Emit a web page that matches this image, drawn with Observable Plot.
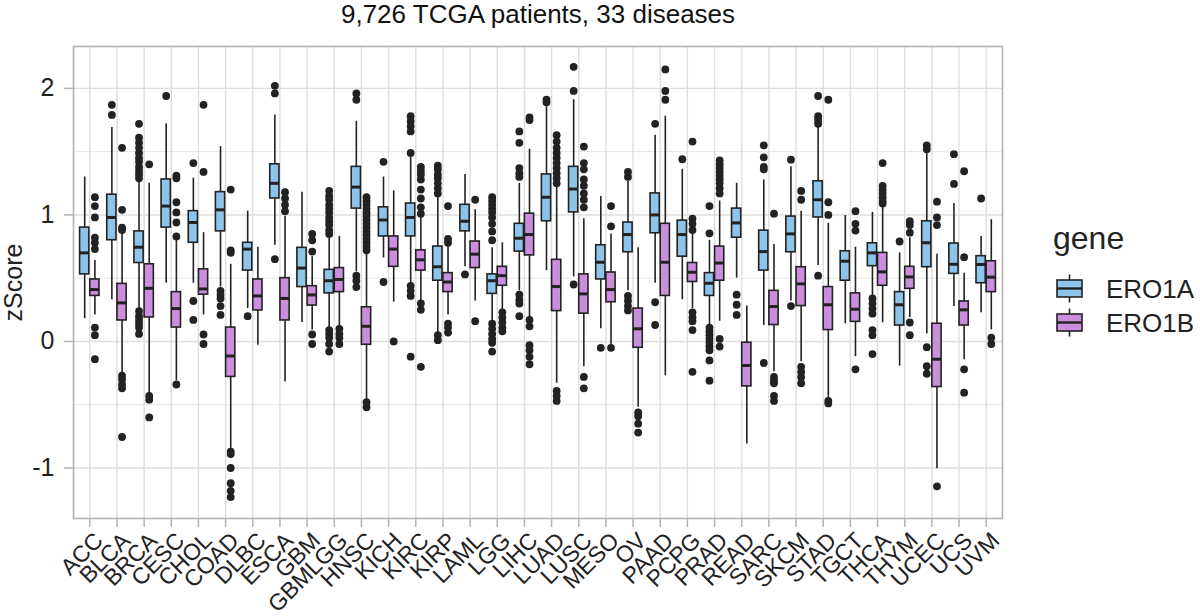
<!DOCTYPE html>
<html>
<head>
<meta charset="utf-8">
<script src="https://cdn.jsdelivr.net/npm/d3@7"></script>
<script src="https://cdn.jsdelivr.net/npm/@observablehq/plot@0.6"></script>
<style>
  html, body { margin: 0; padding: 0; background: #fff; }
  #wrap { position: relative; width: 1200px; height: 616px; overflow: hidden; font-family: "Liberation Sans", Arial, sans-serif; }
  #legend { position: absolute; left: 0; top: 0; }
</style>
</head>
<body>
<div id="wrap"></div>
<script>
const diseases = ["ACC","BLCA","BRCA","CESC","CHOL","COAD","DLBC","ESCA","GBM","GBMLGG","HNSC","KICH","KIRC","KIRP","LAML","LGG","LIHC","LUAD","LUSC","MESO","OV","PAAD","PCPG","PRAD","READ","SARC","SKCM","STAD","TGCT","THCA","THYM","UCEC","UCS","UVM"];
const genes = ["ERO1A", "ERO1B"];
const geneColors = ["#8EC3EA", "#CA8EDD"];
const yTicks = [-1, 0, 1, 2];
const yMinor = [-0.5, 0.5, 1.5];
const titleText = "9,726 TCGA patients, 33 diseases";

// ERO1A box statistics: [lower whisker, q1, median, q3, upper whisker]
const ero1aStats = [
  [0.18, 0.53, 0.70, 0.90, 1.30],
  [0.33, 0.80, 0.98, 1.16, 1.69],
  [0.26, 0.62, 0.745, 0.87, 1.27],
  [0.46, 0.90, 1.07, 1.28, 1.72],
  [0.46, 0.78, 0.94, 1.03, 1.29],
  [0.43, 0.87, 1.04, 1.18, 1.54],
  [0.26, 0.56, 0.73, 0.78, 1.03],
  [0.76, 1.13, 1.25, 1.40, 1.79],
  [0.15, 0.43, 0.58, 0.74, 1.18],
  [0.11, 0.38, 0.48, 0.566, 0.82],
  [0.55, 1.05, 1.22, 1.38, 1.74],
  [0.66, 0.83, 0.96, 1.06, 1.30],
  [0.455, 0.83, 0.98, 1.09, 1.46],
  [0.07, 0.48, 0.59, 0.75, 1.14],
  [0.59, 0.87, 0.95, 1.08, 1.32],
  [0.15, 0.376, 0.48, 0.53, 0.74],
  [0.40, 0.71, 0.816, 0.93, 1.25],
  [0.56, 0.95, 1.14, 1.32, 1.855],
  [0.51, 1.02, 1.205, 1.38, 1.91],
  [0.10, 0.49, 0.626, 0.76, 1.145],
  [0.40, 0.705, 0.845, 0.94, 1.265],
  [0.46, 0.855, 1.00, 1.17, 1.63],
  [0.33, 0.67, 0.845, 0.955, 1.36],
  [0.126, 0.36, 0.46, 0.54, 0.80],
  [0.50, 0.82, 0.937, 1.05, 1.25],
  [0.126, 0.56, 0.71, 0.876, 1.276],
  [0.32, 0.705, 0.85, 0.987, 1.38],
  [0.60, 0.98, 1.12, 1.266, 1.69],
  [0.14, 0.48, 0.634, 0.713, 0.995],
  [0.345, 0.595, 0.70, 0.776, 1.02],
  [-0.195, 0.126, 0.29, 0.39, 0.70],
  [0.06, 0.587, 0.78, 0.95, 1.49],
  [0.276, 0.534, 0.61, 0.774, 1.09],
  [0.226, 0.46, 0.608, 0.674, 0.83]
];
const ero1aOutliers = [
  [],
  [1.87, 1.79],
  [1.72, 1.61, 1.57, 1.53, 1.49, 1.45, 1.42, 1.38, 1.35, 1.32, 1.29, 0.24, 0.20, 0.17, 0.14, 0.11, 0.06],
  [1.94],
  [1.41, 0.32, 0.17],
  [0.40, 0.37, 0.34, 0.28, 0.21],
  [0.20],
  [2.02, 1.96, 0.65],
  [],
  [1.19, 1.15, 1.12, 1.08, 1.05, 1.02, 0.98, 0.95, 0.92, 0.88, 0.85, 0.09, 0.06, 0.03, -0.02, -0.08],
  [1.96, 1.91, 0.52, 0.48, 0.43],
  [1.42, 0.47],
  [1.78, 1.74, 1.70, 1.66, 1.49, 0.44, 0.40, 0.36, -0.12],
  [1.39, 1.36, 1.32, 1.29, 1.25, 1.21, 1.17, 0.05, 0.01],
  [0.53],
  [1.14, 1.11, 1.08, 1.05, 1.02, 0.98, 0.93, 0.87, 0.80, 0.14, 0.10, 0.06, 0.02, -0.01, -0.08],
  [1.66, 1.57, 1.37, 1.33, 1.30, 0.37, 0.33, 0.30, 0.20],
  [1.91, 1.89],
  [2.17, 1.98, 0.45],
  [-0.05],
  [1.34, 1.30, 0.36, 0.32, 0.28, 0.245],
  [1.72, 0.31, 0.13],
  [1.44],
  [1.07, 0.855, 0.11, 0.08, 0.05, 0.02, -0.01, -0.04, -0.07, -0.15, -0.31],
  [0.37, 0.29, 0.21],
  [1.55, 1.455, 1.38, 1.36, -0.17],
  [1.437, 0.28],
  [1.94, 1.78, 1.75, 1.72, 0.52],
  [],
  [0.34, 0.30, 0.26, 0.22, 0.09, 0.05, -0.10],
  [0.79],
  [1.55, 1.52, -0.045, -0.195, -0.255],
  [1.48, 1.245],
  [1.13]
];

// ERO1B box statistics: [lower whisker, q1, median, q3, upper whisker]
const ero1bStats = [
  [0.21, 0.36, 0.41, 0.49, 0.64],
  [-0.255, 0.166, 0.305, 0.455, 0.86],
  [-0.41, 0.19, 0.42, 0.61, 1.25],
  [-0.31, 0.11, 0.26, 0.39, 0.82],
  [0.21, 0.37, 0.415, 0.57, 0.86],
  [-0.86, -0.28, -0.115, 0.11, 0.61],
  [-0.03, 0.245, 0.36, 0.49, 0.745],
  [-0.32, 0.166, 0.34, 0.50, 0.99],
  [0.09, 0.284, 0.368, 0.437, 0.67],
  [0.11, 0.39, 0.49, 0.58, 0.83],
  [-0.47, -0.026, 0.12, 0.27, 0.69],
  [0.31, 0.59, 0.73, 0.83, 1.19],
  [0.31, 0.56, 0.645, 0.72, 0.99],
  [0.21, 0.39, 0.47, 0.54, 0.76],
  [0.32, 0.58, 0.69, 0.79, 1.04],
  [0.245, 0.44, 0.52, 0.59, 0.78],
  [0.18, 0.68, 0.845, 1.01, 1.52],
  [-0.33, 0.24, 0.434, 0.645, 1.23],
  [-0.20, 0.22, 0.376, 0.53, 0.97],
  [-0.03, 0.31, 0.41, 0.545, 0.85],
  [-0.52, -0.05, 0.10, 0.26, 0.74],
  [-0.27, 0.36, 0.626, 0.93, 1.78],
  [0.26, 0.47, 0.547, 0.62, 0.85],
  [0.16, 0.48, 0.62, 0.75, 1.11],
  [-0.81, -0.355, -0.19, -0.01, 0.28],
  [-0.24, 0.13, 0.276, 0.40, 0.766],
  [-0.16, 0.28, 0.455, 0.587, 1.03],
  [-0.445, 0.09, 0.29, 0.43, 0.934],
  [-0.12, 0.155, 0.255, 0.38, 0.745],
  [0.147, 0.44, 0.55, 0.70, 1.06],
  [0.19, 0.416, 0.51, 0.59, 0.82],
  [-1.005, -0.36, -0.14, 0.14, 0.69],
  [-0.145, 0.126, 0.25, 0.316, 0.54],
  [0.092, 0.39, 0.508, 0.634, 0.963]
];
const ero1bOutliers = [
  [1.14, 1.07, 0.98, 0.82, 0.78, 0.73, 0.11, 0.05, -0.14],
  [1.53, 1.04, 0.90, 0.88, -0.27, -0.30, -0.34, -0.37, -0.755],
  [1.40, -0.43, -0.46, -0.60],
  [1.31, 1.29, 1.10, 1.02, 0.94, 0.83, -0.34],
  [1.87, 1.34, 0.055, -0.02],
  [1.20, 0.72, 0.70, -0.87, -0.89, -1.0, -1.12, -1.18, -1.23],
  [],
  [1.18, 1.13, 1.08, 1.03],
  [0.85, 0.80, 0.71, 0.055, -0.02],
  [0.10, 0.06, 0.03, -0.02],
  [1.14, 1.11, 1.08, 1.05, 1.02, 0.99, 0.96, 0.93, 0.90, 0.87, 0.84, 0.81, 0.78, 0.75, 0.72, -0.48, -0.52],
  [0.0],
  [1.38, 1.35, 1.32, 1.28, 1.20, 1.13, 1.06, 1.01, 0.30, 0.25, -0.2],
  [1.07, 0.81, 0.78, 0.14, 0.11, 0.07],
  [1.12, 0.16],
  [0.23, 0.19, 0.15, 0.11, 0.08],
  [1.77, 1.75, 0.17, 0.12, -0.03, -0.07, -0.12, -0.18],
  [1.63, 1.58, 1.53, 1.49, 1.45, 1.41, 1.37, 1.33, 1.29, 1.25, -0.39, -0.43, -0.47],
  [1.54, 1.41, 1.36, 1.28, 1.23, 1.17, 1.12, 1.06, -0.28, -0.37],
  [1.07, 0.91, -0.05],
  [-0.56, -0.59, -0.65, -0.72],
  [2.15, 1.98, 1.91],
  [1.58, 0.97, 0.93, 0.88, 0.23, 0.19, 0.16, 0.09, -0.24],
  [1.43, 1.40, 1.37, 1.34, 1.31, 1.28, 1.25, 1.21, 1.17, 0.02, -0.04],
  [],
  [1.01, -0.28, -0.31, -0.33, -0.43, -0.47],
  [1.19, 1.12, -0.20, -0.24, -0.28, -0.33],
  [1.91, 1.10, 1.0, -0.47, -0.49],
  [1.03, 0.93, 0.876, -0.22],
  [1.41, 1.23, 1.20, 1.17, 1.14, 1.11, 1.09],
  [0.95, 0.92, 0.86, 0.15, 0.05],
  [1.105, 0.98, 0.92, -1.145],
  [1.345, 0.666, -0.22, -0.405],
  [0.03, -0.02]
];

// ---- build tables ----
const dodge = 0.1875, halfBox = 0.17;
const boxes = [];
const outliers = [];
[[ero1aStats, ero1aOutliers, -dodge], [ero1bStats, ero1bOutliers, dodge]].forEach(([stats, outs, off], g) => {
  stats.forEach((s, i) => {
    const x = i + off;
    boxes.push({gene: genes[g], x, x1: x - halfBox, x2: x + halfBox, lo: s[0], q1: s[1], med: s[2], q3: s[3], hi: s[4]});
    outs[i].forEach(v => outliers.push({gene: genes[g], x, v}));
  });
});
const labels = diseases.map((name, i) => ({i, name}));

const font = "Liberation Sans, Arial, sans-serif";
const ink = "#222222";

const chart = Plot.plot({
  width: 1200,
  height: 616,
  marginLeft: 73,
  marginRight: 198,
  marginTop: 46,
  marginBottom: 98,
  style: {fontFamily: font, background: "white"},
  x: {type: "linear", domain: [-0.6, diseases.length - 0.4], axis: null},
  y: {domain: [-1.399, 2.331], axis: null},
  color: {domain: genes, range: geneColors},
  marks: [
    // grid
    Plot.ruleY(yMinor, {stroke: "#e3e3e3", strokeWidth: 0.9}),
    Plot.ruleY(yTicks, {stroke: "#dedede", strokeWidth: 1.4}),
    Plot.ruleX(d3.range(diseases.length), {stroke: "#dedede", strokeWidth: 1.4}),
    // whiskers
    Plot.ruleX(boxes, {x: "x", y1: "lo", y2: "hi", stroke: ink, strokeWidth: 1.6}),
    // boxes
    Plot.rect(boxes, {x1: "x1", x2: "x2", y1: "q1", y2: "q3", fill: "gene", stroke: ink, strokeWidth: 1.6}),
    // medians
    Plot.ruleY(boxes, {y: "med", x1: "x1", x2: "x2", stroke: ink, strokeWidth: 3}),
    // outliers
    Plot.dot(outliers, {x: "x", y: "v", r: 3.9, fill: ink, stroke: null}),
    // panel border
    Plot.frame({stroke: "#b3b3b3", strokeWidth: 1.6}),
    // y axis
    Plot.axisY({ticks: yTicks, tickFormat: d => String(d), tickSize: 9, tickPadding: 10, fontSize: 25, stroke: "#b3b3b3", strokeWidth: 1.5, color: ink}),
    // x axis ticks
    Plot.axisX({ticks: d3.range(diseases.length), tickFormat: () => "", tickSize: 9, stroke: "#b3b3b3", strokeWidth: 1.5}),
    // x tick labels
    Plot.text(labels, {x: "i", text: "name", frameAnchor: "bottom", rotate: -45, textAnchor: "end", lineAnchor: "top", dy: 12, dx: 3, fontSize: 23, fill: ink}),
    // y axis title
    Plot.text([0], {text: () => "zScore", frameAnchor: "left", dx: -60, rotate: -90, textAnchor: "middle", lineAnchor: "middle", fontSize: 25, fill: ink}),
    // title
    Plot.text([0], {text: () => titleText, frameAnchor: "top", dy: -24, textAnchor: "middle", lineAnchor: "bottom", fontSize: 26, fill: "#111"})
  ]
});
const wrap = document.getElementById("wrap");
wrap.appendChild(chart);

// legend (boxplot key glyphs)
const ns = "http://www.w3.org/2000/svg";
const leg = document.createElementNS(ns, "svg");
leg.setAttribute("id", "legend");
leg.setAttribute("width", 1200);
leg.setAttribute("height", 616);
function el(tag, attrs, text) {
  const e = document.createElementNS(ns, tag);
  for (const k in attrs) e.setAttribute(k, attrs[k]);
  if (text) e.textContent = text;
  leg.appendChild(e);
  return e;
}
el("text", {x: 1053, y: 249, "font-size": 32, "font-family": font, fill: ink}, "gene");
genes.forEach((g, k) => {
  const cy = 288.5 + k * 34;
  el("line", {x1: 1069.5, x2: 1069.5, y1: cy - 14, y2: cy + 14, stroke: ink, "stroke-width": 1.6});
  el("rect", {x: 1057, y: cy - 8.5, width: 25, height: 17, fill: geneColors[k], stroke: ink, "stroke-width": 1.6});
  el("line", {x1: 1057, x2: 1082, y1: cy, y2: cy, stroke: ink, "stroke-width": 2.4});
  el("text", {x: 1106, y: cy + 9.5, "font-size": 26, "font-family": font, fill: ink}, g);
});
wrap.appendChild(leg);
</script>
</body>
</html>
